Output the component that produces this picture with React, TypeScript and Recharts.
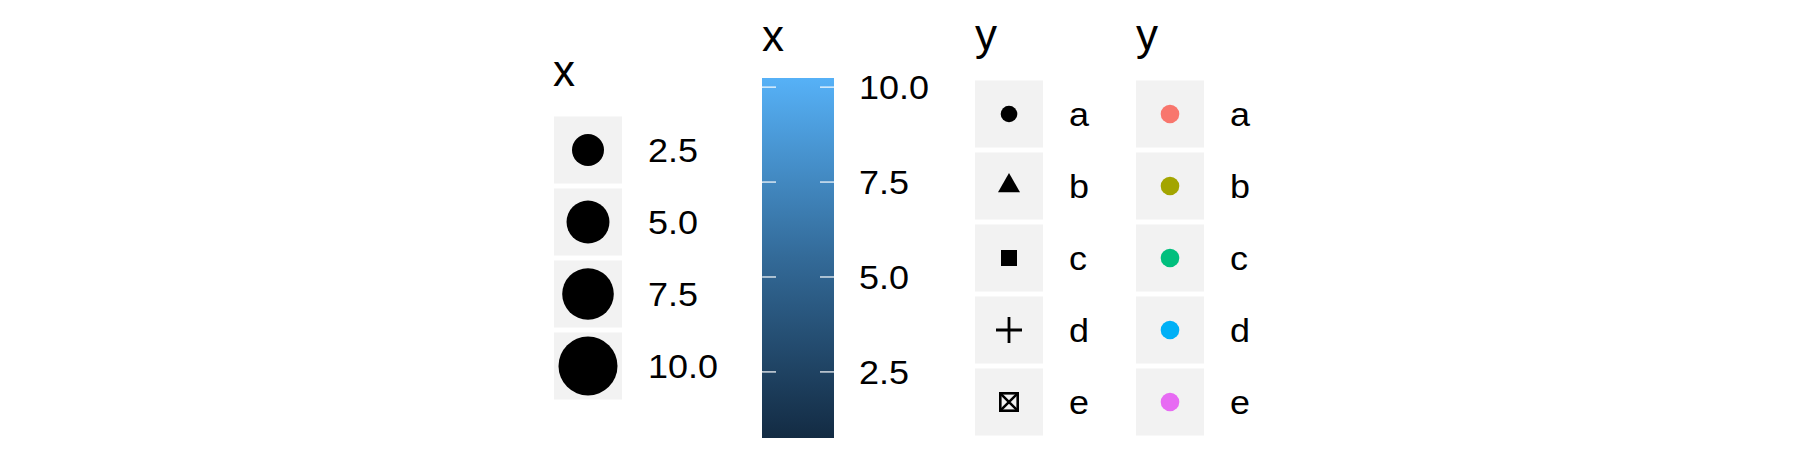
import { ScatterChart, Scatter, XAxis, YAxis, ZAxis, ReferenceArea } from 'recharts';

const FONT = '"Liberation Sans", Arial, Helvetica, sans-serif';
const KEY_FILL = "#F2F2F2";
const TEXT = "#000000";

// size legend
const SIZE_TITLE = "x";
const SIZE_BREAKS = [2.5, 5.0, 7.5, 10.0];

// fill colourbar
const FILL_TITLE = "x";
const FILL_LIMITS = [0.76, 10.24];
const FILL_BREAKS = [2.5, 5.0, 7.5, 10.0];
const FILL_LOW = "#132B43";
const FILL_MID = "#336A98";
const FILL_HIGH = "#56B1F7";

// shape + colour legends
const Y_TITLE = "y";
const Y_LEVELS = ["a", "b", "c", "d", "e"];
const Y_SHAPES = ["circle", "triangle", "square", "plus", "boxX"];
const Y_COLOURS = ["#F8766D", "#A3A500", "#00BF7D", "#00B0F6", "#E76BF3"];

// legend text in the reference is a bit wider than Liberation Sans
const makeTick = (fmt: (v: number) => string) => (props: any) => {
  const { x, y, payload } = props;
  return (
    <text
      x={x}
      y={y}
      dy="0.37em"
      textAnchor="start"
      fill={TEXT}
      fontSize={33}
      fontFamily={FONT}
      transform={`translate(${x},0) scale(1.09,1) translate(${-x},0)`}
    >
      {fmt(payload.value)}
    </text>
  );
};

const Title = ({ text, left, baseline }: { text: string; left: number; baseline: number }) => (
  <div
    style={{
      position: 'absolute',
      left,
      top: baseline - 38,
      fontSize: 44,
      lineHeight: '44px',
      fontFamily: FONT,
      color: TEXT,
    }}
  >
    {text}
  </div>
);

const keyBox = (cx: number, cy: number) => (
  <rect x={cx - 34} y={cy - 33.5} width={68} height={67} fill={KEY_FILL} />
);

const SizeKey = (props: any) => {
  const { cx, cy, size, width } = props;
  const r = size ? Math.sqrt(size / Math.PI) : width / 2;
  return (
    <g>
      {keyBox(cx, cy)}
      <circle cx={cx} cy={cy} r={r} fill="#000" />
    </g>
  );
};

const ShapeKey = (props: any) => {
  const { cx, cy, payload } = props;
  let glyph = null;
  switch (payload.shape) {
    case "circle":
      glyph = <circle cx={cx} cy={cy} r={8.3} fill="#000" />;
      break;
    case "triangle":
      glyph = <polygon points={`${cx},${cy - 13} ${cx - 11},${cy + 6.3} ${cx + 11},${cy + 6.3}`} fill="#000" />;
      break;
    case "square":
      glyph = <rect x={cx - 8} y={cy - 8} width={16} height={16} fill="#000" />;
      break;
    case "plus":
      glyph = (
        <path d={`M${cx - 13},${cy}H${cx + 13}M${cx},${cy - 13}V${cy + 13}`} stroke="#000" strokeWidth={2.8} fill="none" />
      );
      break;
    case "boxX":
      glyph = (
        <g stroke="#000" strokeWidth={2.6} fill="none">
          <rect x={cx - 8.7} y={cy - 8.7} width={17.4} height={17.4} />
          <path d={`M${cx - 8.7},${cy - 8.7}L${cx + 8.7},${cy + 8.7}M${cx + 8.7},${cy - 8.7}L${cx - 8.7},${cy + 8.7}`} />
        </g>
      );
      break;
  }
  return (
    <g>
      {keyBox(cx, cy)}
      {glyph}
    </g>
  );
};

const ColourKey = (props: any) => {
  const { cx, cy, payload } = props;
  return (
    <g>
      {keyBox(cx, cy)}
      <circle cx={cx} cy={cy} r={9.3} fill={payload.colour} />
    </g>
  );
};

const sizeData = SIZE_BREAKS.map((v, i) => ({ col: 0, row: i, value: v }));
const shapeData = Y_LEVELS.map((l, i) => ({ col: 0, row: i, label: l, shape: Y_SHAPES[i] }));
const colourData = Y_LEVELS.map((l, i) => ({ col: 0, row: i, label: l, colour: Y_COLOURS[i] }));

const rows = (n: number) => Array.from({ length: n }, (_, i) => i);

const SizeLegend = () => (
  <ScatterChart width={172} height={450} margin={{ top: 114, right: 0, bottom: 48, left: 0 }}>
    <XAxis type="number" dataKey="col" domain={[-0.5, 0.5]} hide allowDataOverflow />
    <YAxis
      type="number"
      dataKey="row"
      orientation="right"
      reversed
      domain={[-0.5, SIZE_BREAKS.length - 0.5]}
      allowDataOverflow
      ticks={rows(SIZE_BREAKS.length)}
      interval={0}
      axisLine={false}
      tickLine={false}
      tickSize={0}
      tickMargin={26}
      width={104}
      tick={makeTick((i) => SIZE_BREAKS[i].toFixed(1))}
    />
    <ZAxis type="number" dataKey="value" domain={[2.5, 10]} range={[804, 2734]} />
    <Scatter data={sizeData} shape={SizeKey} isAnimationActive={false} />
  </ScatterChart>
);

const FillBar = () => (
  <ScatterChart width={178} height={450} margin={{ top: 78, right: 0, bottom: 12, left: 0 }}>
    <defs>
      <linearGradient id="fillbar" x1="0" y1="1" x2="0" y2="0">
        <stop offset="0%" stopColor={FILL_LOW} />
        <stop offset="50%" stopColor={FILL_MID} />
        <stop offset="100%" stopColor={FILL_HIGH} />
      </linearGradient>
    </defs>
    <XAxis type="number" dataKey="col" domain={[0, 1]} hide allowDataOverflow />
    <YAxis
      type="number"
      orientation="right"
      domain={FILL_LIMITS}
      allowDataOverflow
      ticks={FILL_BREAKS}
      interval={0}
      axisLine={false}
      tickLine={false}
      tickSize={0}
      tickMargin={25}
      width={106}
      tick={makeTick((v) => v.toFixed(1))}
    />
    <YAxis
      yAxisId="tl"
      type="number"
      orientation="left"
      mirror
      domain={FILL_LIMITS}
      allowDataOverflow
      ticks={FILL_BREAKS}
      interval={0}
      tickFormatter={() => ''}
      axisLine={false}
      tickSize={14}
      tickLine={{ stroke: '#FFFFFF', strokeWidth: 1.2 }}
    />
    <YAxis
      yAxisId="tr"
      type="number"
      orientation="right"
      mirror
      domain={FILL_LIMITS}
      allowDataOverflow
      ticks={FILL_BREAKS}
      interval={0}
      tickFormatter={() => ''}
      axisLine={false}
      tickSize={14}
      tickLine={{ stroke: '#FFFFFF', strokeWidth: 1.2 }}
    />
    <ReferenceArea y1={FILL_LIMITS[0]} y2={FILL_LIMITS[1]} fill="url(#fillbar)" fillOpacity={1} stroke="none" />
  </ScatterChart>
);

const KeyLegend = ({ data, shape }: { data: any[]; shape: any }) => (
  <ScatterChart width={172} height={450} margin={{ top: 78, right: 0, bottom: 12, left: 0 }}>
    <XAxis type="number" dataKey="col" domain={[-0.5, 0.5]} hide allowDataOverflow />
    <YAxis
      type="number"
      dataKey="row"
      orientation="right"
      reversed
      domain={[-0.5, Y_LEVELS.length - 0.5]}
      allowDataOverflow
      ticks={rows(Y_LEVELS.length)}
      interval={0}
      axisLine={false}
      tickLine={false}
      tickSize={0}
      tickMargin={26}
      width={104}
      tick={makeTick((i) => Y_LEVELS[i])}
    />
    <Scatter data={data} shape={shape} isAnimationActive={false} />
  </ScatterChart>
);

export default function App() {
  return (
    <div style={{ position: 'absolute', left: 0, top: 0, width: 1800, height: 450, background: '#fff', overflow: 'hidden' }}>
      <div style={{ position: 'absolute', left: 554, top: 0 }}>
        <SizeLegend />
      </div>
      <div style={{ position: 'absolute', left: 762, top: 0 }}>
        <FillBar />
      </div>
      <div style={{ position: 'absolute', left: 975, top: 0 }}>
        <KeyLegend data={shapeData} shape={ShapeKey} />
      </div>
      <div style={{ position: 'absolute', left: 1136, top: 0 }}>
        <KeyLegend data={colourData} shape={ColourKey} />
      </div>
      <Title text={SIZE_TITLE} left={553} baseline={86.5} />
      <Title text={FILL_TITLE} left={762} baseline={51.5} />
      <Title text={Y_TITLE} left={975} baseline={51} />
      <Title text={Y_TITLE} left={1136} baseline={51} />
    </div>
  );
}
